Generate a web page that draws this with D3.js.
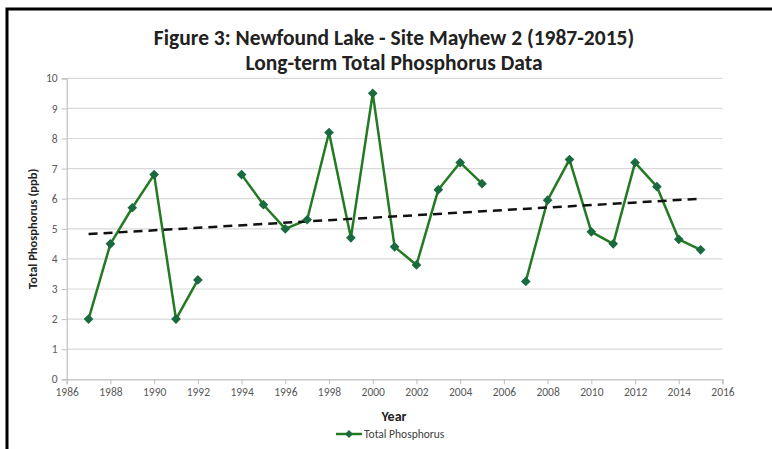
<!DOCTYPE html>
<html><head><meta charset="utf-8">
<script src="https://cdn.jsdelivr.net/npm/d3@7"></script>
<style>
html,body{margin:0;padding:0;background:#fff;}
svg{display:block;font-family:Carlito,Calibri,Lato,"Open Sans",sans-serif;}
</style></head>
<body>
<svg id="chart" width="772" height="449"></svg>
<script>
const years = [1987,1988,1989,1990,1991,1992,1993,1994,1995,1996,1997,1998,1999,2000,2001,2002,2003,2004,2005,2006,2007,2008,2009,2010,2011,2012,2013,2014,2015];
const phosphorus = [2.0,4.5,5.7,6.8,2.0,3.3,null,6.8,5.8,5.0,5.3,8.2,4.7,9.5,4.4,3.8,6.3,7.2,6.5,null,3.25,5.95,7.3,4.9,4.5,7.2,6.4,4.65,4.3];
const xTicks = [1986,1988,1990,1992,1994,1996,1998,2000,2002,2004,2006,2008,2010,2012,2014,2016];
const yTicks = [0,1,2,3,4,5,6,7,8,9,10];
const titleLines = ["Figure 3: Newfound Lake - Site Mayhew 2 (1987-2015)","Long-term Total Phosphorus Data"];
const xTitle = "Year";
const yTitle = "Total Phosphorus (ppb)";
const seriesName = "Total Phosphorus";

const svg = d3.select("#chart");
const m = {left:66.7, right:722.5, top:78.3, bottom:379.3};
const x = d3.scaleLinear().domain([1986,2016]).range([m.left,m.right]);
const y = d3.scaleLinear().domain([0,10]).range([m.bottom,m.top]);

// frame
svg.append("path").attr("d",`M7,449 V9 H772`).attr("fill","none").attr("stroke","#000").attr("stroke-width",3);

// title
svg.append("text").attr("x",394).attr("y",45).attr("text-anchor","middle")
  .attr("font-weight","bold").attr("font-size",20).attr("fill","#222").attr("class","t1").text(titleLines[0]);
svg.append("text").attr("x",394).attr("y",70).attr("text-anchor","middle")
  .attr("font-weight","bold").attr("font-size",20).attr("fill","#222").attr("class","t2").text(titleLines[1]);
// fit title widths to reference (capped so the two lines stay apart)
[[".t1",522],[".t2",324]].forEach(([s,w])=>{
  const n=svg.select(s).node(); const l=n.getComputedTextLength();
  if(l>0) svg.select(s).attr("font-size",Math.min(21.5,20*w/l));
});

// gridlines
svg.append("g").selectAll("line").data(yTicks.filter(d=>d>0)).join("line")
  .attr("x1",m.left).attr("x2",m.right).attr("y1",d=>y(d)).attr("y2",d=>y(d))
  .attr("stroke","#d9d9d9").attr("stroke-width",1.2);

// axes
const xAxis = d3.axisBottom(x).tickValues(xTicks).tickFormat(d3.format("d")).tickSize(5).tickPadding(4);
const gx = svg.append("g").attr("transform",`translate(0,${m.bottom})`).call(xAxis);
const yAxis = d3.axisLeft(y).tickValues(yTicks).tickSize(5).tickPadding(4);
const gy = svg.append("g").attr("transform",`translate(${m.left},0)`).call(yAxis);
[gx,gy].forEach(g=>{
  g.select(".domain").attr("stroke","#bfbfbf").attr("stroke-width",1.2);
  g.selectAll(".tick line").attr("stroke","#bfbfbf");
  g.selectAll("text").attr("fill","#595959").attr("font-size",11.5).attr("font-family","Carlito,Calibri,Lato,sans-serif");
});

// axis titles
svg.append("text").attr("x",394).attr("y",421).attr("text-anchor","middle")
  .attr("font-weight","bold").attr("font-size",14).attr("fill","#222").text(xTitle);
svg.append("text").attr("transform",`translate(37,${(m.top+m.bottom)/2}) rotate(-90)`).attr("text-anchor","middle")
  .attr("font-weight","bold").attr("font-size",12.5).attr("fill","#222").text(yTitle);

// series
const pts = years.map((yr,i)=>({yr,v:phosphorus[i]}));
const line = d3.line().defined(d=>d.v!==null).x(d=>x(d.yr)).y(d=>y(d.v));
svg.append("path").datum(pts).attr("d",line).attr("fill","none")
  .attr("stroke","#237a23").attr("stroke-width",2.5).attr("stroke-linejoin","round");

// linear trendline (least squares on data)
const valid = pts.filter(d=>d.v!==null);
const mx = d3.mean(valid,d=>d.yr), my = d3.mean(valid,d=>d.v);
const slope = d3.sum(valid,d=>(d.yr-mx)*(d.v-my))/d3.sum(valid,d=>(d.yr-mx)**2);
const yr0 = d3.min(valid,d=>d.yr), yr1 = d3.max(valid,d=>d.yr);
svg.append("line").attr("x1",x(yr0)).attr("y1",y(my+slope*(yr0-mx)))
  .attr("x2",x(yr1)).attr("y2",y(my+slope*(yr1-mx)))
  .attr("stroke","#111").attr("stroke-width",2.5).attr("stroke-dasharray","9,6");

// markers
const diamond = d3.symbol().type(d3.symbolDiamond2).size(60);
svg.append("g").selectAll("path").data(valid).join("path")
  .attr("transform",d=>`translate(${x(d.yr)},${y(d.v)})`).attr("d",diamond)
  .attr("fill","#1a6a40");

// legend
const lg = svg.append("g").attr("transform","translate(336,434)");
lg.append("line").attr("x1",0).attr("x2",26).attr("stroke","#237a23").attr("stroke-width",2.5);
lg.append("path").attr("transform","translate(13,0)").attr("d",d3.symbol().type(d3.symbolDiamond2).size(40)).attr("fill","#1a6a40");
lg.append("text").attr("x",28).attr("y",4).attr("font-size",11.5).attr("fill","#404040").text(seriesName);
</script>
</body></html>
